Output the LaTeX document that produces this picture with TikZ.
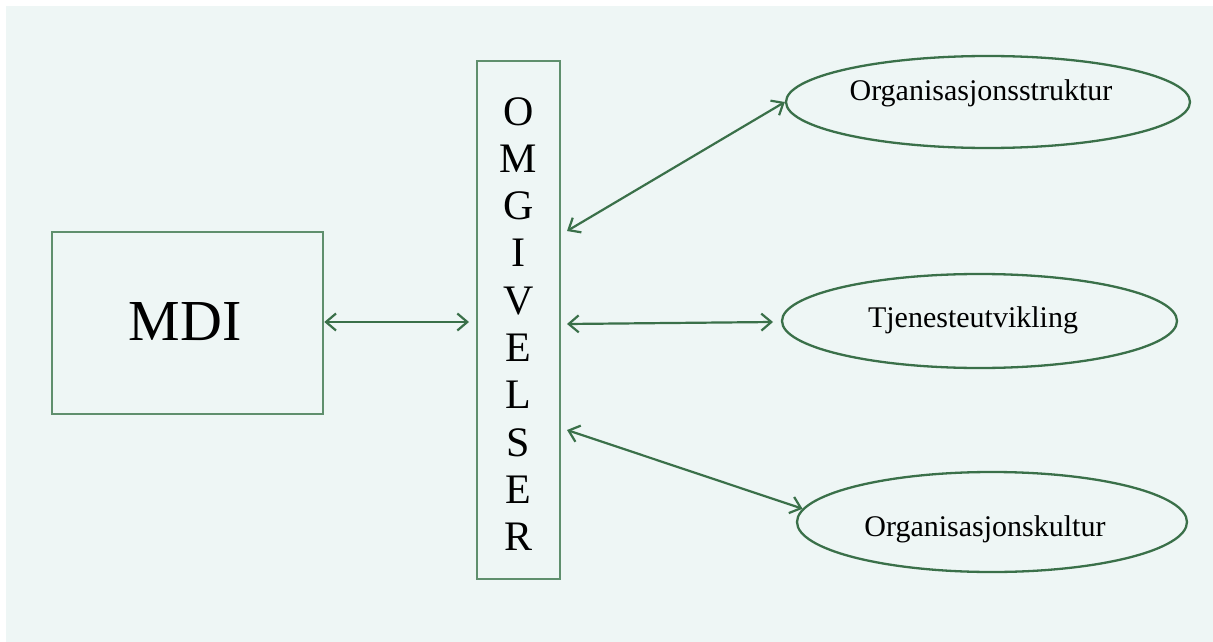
\documentclass[tikz,border=0pt]{standalone}
\usepackage{fontspec}
\setmainfont{Liberation Serif}
\usetikzlibrary{arrows.meta,shapes.geometric}
\definecolor{bg}{HTML}{EEF6F5}
\definecolor{ln}{HTML}{3A7049}
\definecolor{bx}{HTML}{5F8F6D}
\begin{document}
\begin{tikzpicture}[x=1pt,y=-1pt,
  boxstyle/.style={draw=bx, line width=2.6pt, inner sep=0pt},
  ellstyle/.style={ellipse, draw=ln, line width=2.3pt, inner sep=0pt},
  lbl/.style={anchor=base, text=black, font=\fontsize{30}{32}\selectfont, inner sep=0pt},
  arr/.style={draw=ln, line width=2.2pt, {Straight Barb[length=10pt,width=17pt]}-{Straight Barb[length=10pt,width=17pt]}}]
\useasboundingbox (0,0) rectangle (1213,642);
\fill[bg] (6,6) rectangle (1213,642);
% MDI box
\node[boxstyle, minimum width=271pt, minimum height=182pt] (mdi) at (187.5,323) {};
\node[text=black, inner sep=0pt, font=\fontsize{58}{60}\selectfont] (mditext) at (185,322) {MDI};
% OMGIVELSER box
\node[boxstyle, minimum width=83pt, minimum height=518pt] (omg) at (518.5,320) {};
\node[text=black, inner sep=0pt, align=center, font=\fontsize{42}{47.3}\selectfont] (omgtext) at (518.5,324) {O\\M\\G\\I\\V\\E\\L\\S\\E\\R};
% ellipses
\node[ellstyle, minimum width=404pt, minimum height=92pt] (e1) at (988,102) {};
\node[ellstyle, minimum width=395pt, minimum height=94pt] (e2) at (979.5,321) {};
\node[ellstyle, minimum width=390pt, minimum height=100pt] (e3) at (992,522) {};
\node[lbl] (t1) at (981,100) {Organisasjonsstruktur};
\node[lbl] (t2) at (973,327) {Tjenesteutvikling};
\node[lbl] (t3) at (985,536) {Organisasjonskultur};
% connector ends
\coordinate (m1) at (469,322);
\coordinate (a1) at (567,231);
\coordinate (a2) at (567,324);
\coordinate (a3) at (567,430);
\coordinate (b2) at (773,322);
% connectors
\draw[arr] (mdi.east |- m1) -- (m1);
\draw[arr] (a1) -- (e1.west);
\draw[arr] (a2) -- (b2);
\draw[arr] (a3) -- (e3.176);
\end{tikzpicture}
\end{document}
